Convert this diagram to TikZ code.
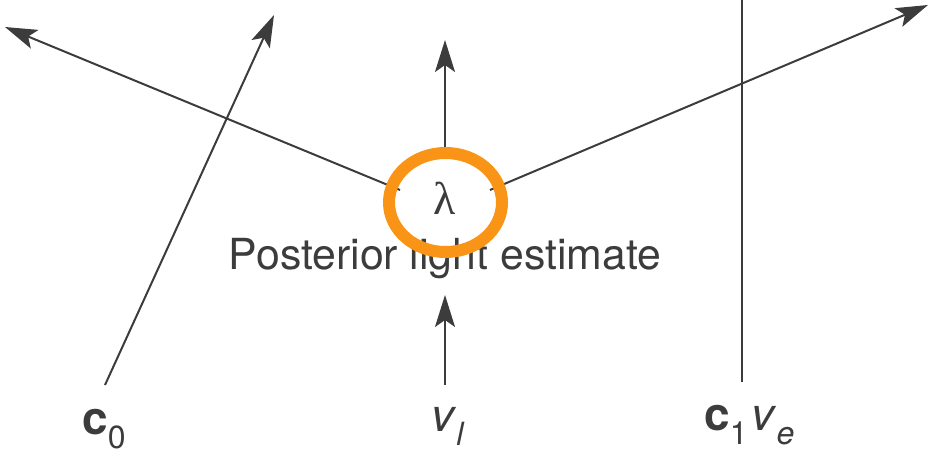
\documentclass[tikz,border=0pt]{standalone}
\usepackage{fontspec}
\setmainfont{TeX Gyre Heros}
\newfontfamily\lamfont{Liberation Serif}
\usetikzlibrary{arrows.meta,shapes.geometric}
\definecolor{ink}{HTML}{3C3C3C}
\definecolor{ringor}{RGB}{250,148,22}
\tikzset{
  ray/.style={draw=ink, line width=1pt},
  arr/.style={ray, -{Stealth[length=16pt,width=10pt,inset=3.5pt]}},
  lab/.style={text=ink, inner sep=0pt, anchor=base, font=\fontsize{23}{23}\selectfont},
}
\newcommand{\subtx}[1]{\raisebox{-0.32em}{\fontsize{16}{16}\selectfont #1}}
\begin{document}
\begin{tikzpicture}[x=0.5pt,y=-0.5pt]
\useasboundingbox (0,0) rectangle (932,454);
% endpoints
\coordinate (lend) at (400,190);
\coordinate (ltip) at (5,27);
\coordinate (rend) at (490,190);
\coordinate (rtip) at (928,5);
\coordinate (mend) at (445,152);
\coordinate (mtip) at (445,40);
\coordinate (bstart) at (445,385);
\coordinate (btip) at (445,295);
\coordinate (cstart) at (105,385);
\coordinate (ctip) at (274,15);
\coordinate (vtop) at (742,0);
\coordinate (vbot) at (742,382);
% rays
\draw[arr] (lend) -- (ltip);
\draw[arr] (rend) -- (rtip);
\draw[arr] (mend) -- (mtip);
\draw[arr] (bstart) -- (btip);
\draw[arr] (cstart) -- (ctip);
\draw[ray] (vtop) -- (vbot);
% texts
\node[lab, font=\fontsize{23}{23}\lamfont] (lam) at (445,215) {λ};
\node[lab, font=\fontsize{21.4}{21.4}\selectfont] (post) at (445,270) {Posterior light estimate};
\node[lab] (c0) at (104,434) {\textbf{c}\subtx{0}};
\node[lab] (vl) at (448,431) {\textit{v}\subtx{\textit{l}}};
\node[lab, anchor=base west] (c1) at (704,430) {\textbf{c}\subtx{1}};
\node[lab, anchor=base west] (ve) at (751,430) {\textit{v}\subtx{\textit{e}}};
% highlight ring
\node[ellipse, draw=ringor, line width=6pt, inner sep=0pt,
      minimum width=56.5pt, minimum height=49.5pt] (ring) at (445.5,202.5) {};
\end{tikzpicture}
\end{document}
